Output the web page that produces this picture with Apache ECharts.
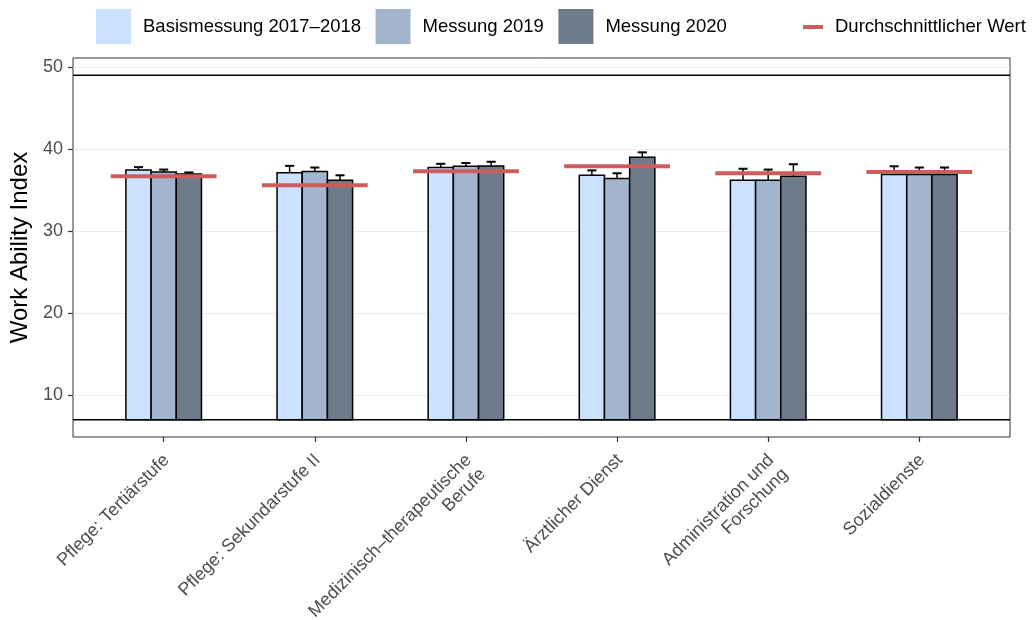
<!DOCTYPE html>
<html><head><meta charset="utf-8">
<script src="https://cdn.jsdelivr.net/npm/echarts@6/dist/echarts.min.js"></script>
<style>html,body{margin:0;padding:0;background:#fff}#c{width:1032px;height:620px}</style>
</head><body><div id="c"></div>
<script>
// ---- data ----
const categories = ['Pflege: Tertiärstufe', 'Pflege: Sekundarstufe II', 'Medizinisch–therapeutische\nBerufe', 'Ärztlicher Dienst', 'Administration und\nForschung', 'Sozialdienste'];
const seriesNames = ['Basismessung 2017–2018', 'Messung 2019', 'Messung 2020'];
const averageName = 'Durchschnittlicher Wert';
const basis = [37.45, 37.1, 37.75, 36.8, 36.2, 36.9];
const basisUpper = [37.8, 37.95, 38.2, 37.4, 37.6, 37.9];
const m2019 = [37.2, 37.25, 37.9, 36.4, 36.2, 36.9];
const m2019Upper = [37.5, 37.75, 38.3, 37.05, 37.5, 37.75];
const m2020 = [36.95, 36.2, 37.95, 39.0, 36.7, 36.9];
const m2020Upper = [37.15, 36.8, 38.45, 39.6, 38.15, 37.75];
const average = [36.7, 35.6, 37.3, 37.9, 37.05, 37.2];
const refLines = [7, 49];
const yTicks = [10, 20, 30, 40, 50];
const xTicks = [1, 2, 3, 4, 5, 6];

// ---- layout / style constants ----
const X_MIN = 0.4, X_MAX = 6.6, Y_MIN = 4.9, Y_MAX = 51.1;
const BASE = refLines[0];
const BW = 0.5 / 3;      // bar width in category units
const CAP = 0.06;        // error bar cap width
const AVG_W = 0.7;       // average line width in category units
const colors = ['#CAE1FF', '#A2B5CD', '#6E7B8B'];
const avgColor = '#CD5C5C';
const FONT = 'Liberation Sans, Arial, sans-serif';

function barSeries(k, vals, uppers) {
  return {
    type: 'custom', name: seriesNames[k],
    itemStyle: { color: colors[k] },
    data: vals.map((v, i) => [xTicks[i], v, uppers[i]]),
    encode: { x: 0, y: [1, 2] },
    z: 2,
    renderItem: (params, api) => {
      const x = api.value(0), v = api.value(1), up = api.value(2);
      const cx = x + (k - 1) * BW;
      const p0 = api.coord([cx - BW / 2, v]);
      const p1 = api.coord([cx + BW / 2, BASE]);
      const t = api.coord([cx, up]);
      const cl = api.coord([cx - CAP / 2, up]);
      const cr = api.coord([cx + CAP / 2, up]);
      return { type: 'group', children: [
        { type: 'line', shape: { x1: t[0], y1: p0[1], x2: t[0], y2: t[1] }, style: { stroke: '#000', lineWidth: 1.5 } },
        { type: 'line', shape: { x1: cl[0], y1: t[1], x2: cr[0], y2: t[1] }, style: { stroke: '#000', lineWidth: 2 } },
        { type: 'rect', shape: { x: p0[0], y: p0[1], width: p1[0] - p0[0], height: p1[1] - p0[1] }, style: { fill: colors[k], stroke: '#000', lineWidth: 1.5 } }
      ] };
    }
  };
}

const chart = echarts.init(document.getElementById('c'), null, { renderer: 'canvas' });
chart.setOption({
  animation: false,
  backgroundColor: '#fff',
  textStyle: { fontFamily: FONT },
  grid: { left: 73, right: 22, top: 58, bottom: 183, containLabel: false, outerBoundsMode: 'none',
    show: true, borderColor: '#333', borderWidth: 1, backgroundColor: 'transparent' },
  legend: [
    { data: seriesNames.map(n => ({ name: n, icon: 'rect' })), left: 96, top: 9, padding: 0,
      itemWidth: 35, itemHeight: 35, itemGap: 14.5, selectedMode: false,
      textStyle: { fontSize: 18.5, color: '#000', fontFamily: FONT, padding: [0, 0, 0, 7] } },
    { data: [{ name: averageName, icon: 'rect' }], left: 803, top: 17.5, padding: 0,
      itemWidth: 20, itemHeight: 4, selectedMode: false,
      textStyle: { fontSize: 18.5, color: '#000', fontFamily: FONT, padding: [0, 0, 0, 7] } }
  ],
  xAxis: {
    type: 'value', min: X_MIN, max: X_MAX,
    axisLine: { show: false },
    splitLine: { show: false },
    axisTick: { show: true, customValues: xTicks, length: 5, lineStyle: { color: '#333', width: 1.2 } },
    axisLabel: { customValues: xTicks, formatter: v => categories[Math.round(v) - 1] || '',
      rotate: 45, align: 'right', verticalAlign: 'top', margin: 9, padding: [0, 6, 0, 0],
      fontSize: 18, color: '#4D4D4D', fontFamily: FONT, lineHeight: 20 }
  },
  yAxis: {
    type: 'value', min: Y_MIN, max: Y_MAX,
    name: 'Work Ability Index', nameLocation: 'middle', nameRotate: 90, nameGap: 35,
    nameTextStyle: { fontSize: 24, color: '#000', fontFamily: FONT },
    axisLine: { show: false },
    splitLine: { show: true, lineStyle: { color: '#EBEBEB', width: 1.2 } },
    axisTick: { show: true, customValues: yTicks, length: 5, lineStyle: { color: '#333', width: 1.2 } },
    axisLabel: { customValues: yTicks, margin: 10, fontSize: 18, color: '#4D4D4D', fontFamily: FONT }
  },
  series: [
    barSeries(0, basis, basisUpper),
    barSeries(1, m2019, m2019Upper),
    barSeries(2, m2020, m2020Upper),
    {
      type: 'custom', name: averageName, itemStyle: { color: avgColor }, z: 3,
      data: average.map((v, i) => [xTicks[i], v]),
      encode: { x: 0, y: 1 },
      renderItem: (params, api) => {
        const x = api.value(0), v = api.value(1);
        const a = api.coord([x - AVG_W / 2, v]), b = api.coord([x + AVG_W / 2, v]);
        return { type: 'line', shape: { x1: a[0], y1: a[1], x2: b[0], y2: b[1] }, style: { stroke: avgColor, lineWidth: 4 } };
      }
    },
    {
      type: 'custom', name: 'ref', z: 4, silent: true,
      data: refLines.map(v => [v]),
      encode: { y: 0 },
      renderItem: (params, api) => {
        const v = api.value(0);
        const a = api.coord([X_MIN, v]), b = api.coord([X_MAX, v]);
        return { type: 'line', shape: { x1: a[0], y1: a[1], x2: b[0], y2: b[1] }, style: { stroke: '#000', lineWidth: 1.6 } };
      }
    }
  ]
});
</script></body></html>
